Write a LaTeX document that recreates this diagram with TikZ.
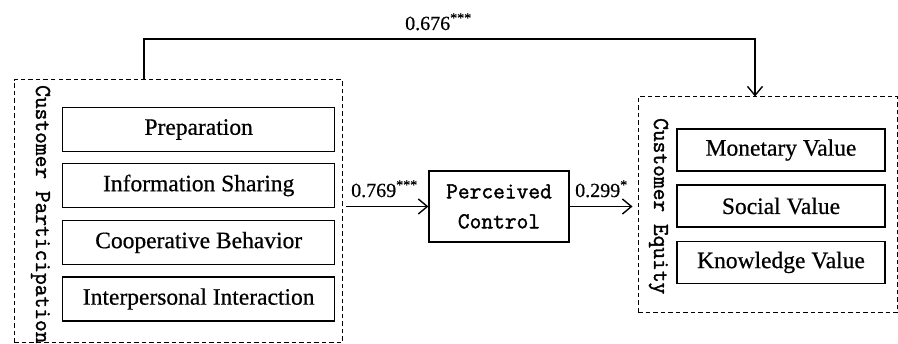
\documentclass[tikz,border=0pt]{standalone}
\usepackage{fontspec}
\setmainfont{Liberation Serif}[FakeBold=0.6]
\newfontfamily\headfont{Latin Modern Mono}[FakeBold=1.6]
\usetikzlibrary{arrows.meta}
\begin{document}
\begin{tikzpicture}[x=1pt,y=1pt,
  item/.style={draw,line width=1.2pt,minimum height=44pt,inner sep=0pt,
    font=\fontsize{23.5}{26}\selectfont},
  group/.style={draw,line width=1pt,dash pattern=on 4.5pt off 3pt,inner sep=0pt},
  heading/.style={font=\fontsize{22.8}{26}\selectfont\headfont,inner sep=0pt,rotate=-90,anchor=base west},
  coef/.style={font=\fontsize{20}{22}\selectfont,inner sep=0pt,anchor=base west},
  path/.style={line width=1.4pt,-{Straight Barb[length=9pt,width=15pt,line width=1.4pt]}}]
\useasboundingbox (0,0) rectangle (898,-344);

% outer groups
\node[group,minimum width=328pt,minimum height=263pt] (cp) at (178,-211.5) {};
\node[group,minimum width=259pt,minimum height=216pt] (ce) at (767.5,-205) {};
\node[heading] (cpt) at (36,-85) {Customer Participation};
\node[heading] (cet) at (654,-118) {Customer Equity};

% dimensions of participation
\node[item,minimum width=272pt] (prep) at (198.7,-129.5) {Preparation};
\node[item,minimum width=272pt] (info) at (198.7,-185.5) {Information Sharing};
\node[item,minimum width=272pt] (coop) at (198.7,-242.5) {Cooperative Behavior};
\node[item,minimum width=272pt] (inter) at (198.7,-299) {Interpersonal Interaction};

% dimensions of equity
\node[item,minimum width=208pt,minimum height=42pt] (mon) at (781,-150) {Monetary Value};
\node[item,minimum width=208pt,minimum height=42pt] (soc) at (781,-206) {Social Value};
\node[item,minimum width=208pt,minimum height=42pt] (know) at (781,-262.5) {Knowledge Value};

% mediator
\node[draw,line width=1.2pt,minimum width=140pt,minimum height=71pt,inner sep=0pt,
  align=center,font=\fontsize{22.8}{30}\selectfont\headfont]
  (pc) at (499,-206.5) {Perceived\\Control};

% paths
\coordinate (tl) at (144,-39);
\coordinate (tr) at (755,-39);
\draw[path] (cp.east |- pc.west) ++(3,0) -- (pc.west);
\draw[path,shorten >=5pt] (pc.east) -- (ce.west |- pc.east);
\draw[path,line width=1.2pt] (cp.north -| tl) -- (tl) -- (tr) -- (tr |- ce.north);

% coefficients
\node[coef] (c1) at (351,-197) {0.769\textsuperscript{***}};
\node[coef] (c2) at (575,-197) {0.299\textsuperscript{*}};
\node[coef] (c3) at (405,-30) {0.676\textsuperscript{***}};
\end{tikzpicture}
\end{document}
